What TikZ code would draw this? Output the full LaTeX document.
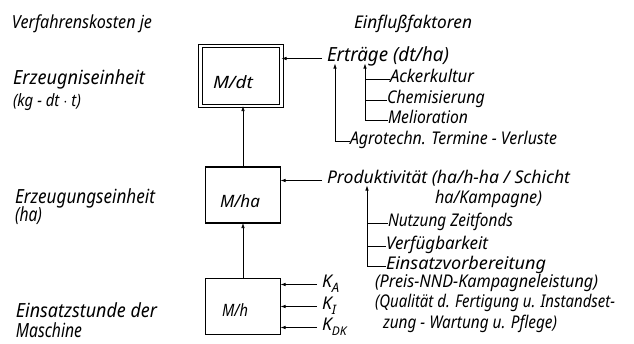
\documentclass[tikz,border=0pt]{standalone}
\usepackage{graphicx}
\usepackage{fontspec}
\setmainfont{Noto Sans}
\usetikzlibrary{arrows.meta}
% set a text to a given width (in pt), keeping its height
\newcommand\fitto[2]{\resizebox{#1pt}{\height}{#2}}
\begin{document}
\begin{tikzpicture}[x=1pt,y=-1pt,
  lbl/.style={anchor=base west, inner sep=0pt, outer sep=0pt,
    text height=0.75em, text depth=0.25em,
    font=\itshape\fontsize{17.5}{19}\selectfont},
  big/.style={lbl, font=\itshape\fontsize{19.5}{21}\selectfont},
  unit/.style={font=\itshape\fontsize{17}{19}\selectfont},
  box/.style={draw, line width=1.4pt, minimum width=75pt, minimum height=56pt,
    inner sep=0pt, outer sep=0pt},
  arr/.style={-{Latex[length=5pt,width=3.5pt]}, line width=0.7pt},
  ln/.style={line width=0.7pt}]
\useasboundingbox (0,0) rectangle (634,343);

% cost boxes
\node[box, double, double distance=2.2pt, line width=1.2pt,
      minimum width=81pt, minimum height=60pt] (mdt) at (241,76) {};
\node[unit] at (233,82) {\fitto{40}{M/dt}};
\node[box] (mha) at (243,195) {};
\node[unit] at (240,201) {\fitto{40}{M/ha}};
\node[box] (mh) at (243,306.5) {};
\node[unit] at (235,310) {\fitto{26}{M/h}};

\draw[arr] (mh.north) -- (mha.south);
\draw[arr] (mha.north) -- (mha.north |- mdt.south);

% left column
\node[lbl, font=\itshape\fontsize{18}{20}\selectfont] (vk) at (12,28) {\fitto{140}{Verfahrenskosten je}};
\node[big] (ee) at (13,84) {\fitto{132}{Erzeugniseinheit}};
\node[lbl, text height=0.7em, text depth=0.2em,
      font=\itshape\fontsize{17}{19}\selectfont] (eeu) at (13,106) {\fitto{68}{(kg - dt $\cdot$ t)}};
\node[big] (eg) at (15,203) {\fitto{140}{Erzeugungseinheit}};
\node[big] (egu) at (15,221) {\fitto{27}{(ha)}};
\node[big] (es) at (16,317) {\fitto{141}{Einsatzstunde der}};
\node[big] (esu) at (16,337) {\fitto{66}{Maschine}};

% influencing factors
\node[lbl] (ef) at (354,28) {\fitto{118}{Einflußfaktoren}};

\node[big] (ertr) at (327,61) {\fitto{122}{Erträge (dt/ha)}};
\node[lbl] (ack) at (390,82) {\fitto{84}{Ackerkultur}};
\node[lbl] (chem) at (387,103) {\fitto{98}{Chemisierung}};
\node[lbl] (mel) at (388,123) {\fitto{80}{Melioration}};
\node[lbl] (agro) at (350,144) {\fitto{207}{Agrotechn. Termine - Verluste}};

\draw[arr, shorten <=5pt] (ertr.west) -- (ertr.west -| mdt.east);
\coordinate (va) at (335,0);
\coordinate (vb) at (365,0);
\draw[arr] (va |- agro.west) -- (va |- ertr.south);
\draw[ln] (va |- agro.west) -- (agro.west);
\draw[arr] (vb |- mel.west) -- (vb |- ertr.south);
\draw[ln] (vb |- ack.west) -- (ack.west);
\draw[ln] (vb |- chem.west) -- (chem.west);
\draw[ln] (vb |- mel.west) -- (mel.west);

\node[lbl] (prod) at (327,183) {\fitto{243}{Produktivität (ha/h-ha / Schicht}};
\node[lbl] (prod2) at (435,203) {\fitto{107}{ha/Kampagne)}};
\node[lbl] (nz) at (388,226) {\fitto{125}{Nutzung Zeitfonds}};
\node[lbl] (vf) at (386,249) {\fitto{102}{Verfügbarkeit}};
\node[lbl] (ev) at (386,269) {\fitto{160}{Einsatzvorbereitung}};

\draw[arr, shorten <=5pt] (prod.west) -- (prod.west -| mha.east);
\coordinate (vc) at (367,0);
\draw[arr] (vc |- ev.west) -- (vc |- prod.south);
\draw[ln] (vc |- nz.west) -- (nz.west);
\draw[ln] (vc |- vf.west) -- (vf.west);
\draw[ln] (vc |- ev.west) -- (ev.west);

% machine cost components
\node[lbl] (ka) at (322,287) {K\raisebox{-0.3em}{\fontsize{13}{13}\selectfont A}};
\node[lbl] (ki) at (322,309) {K\raisebox{-0.3em}{\fontsize{13}{13}\selectfont I}};
\node[lbl] (kdk) at (322,330) {K\raisebox{-0.3em}{\fontsize{12}{12}\selectfont DK}};
\draw[arr, shorten <=5pt] (ka.west) -- (ka.west -| mh.east);
\draw[arr, shorten <=5pt] (ki.west) -- (ki.west -| mh.east);
\draw[arr, shorten <=5pt] (kdk.west) -- (kdk.west -| mh.east);

\node[lbl] (ka2) at (375,287) {\fitto{223}{(Preis-NND-Kampagneleistung)}};
\node[lbl] (ki2) at (375,307) {\fitto{240}{(Qualität d. Fertigung u. Instandset-}};
\node[lbl] (ki3) at (383,328) {\fitto{174}{zung - Wartung u. Pflege)}};
\end{tikzpicture}
\end{document}
